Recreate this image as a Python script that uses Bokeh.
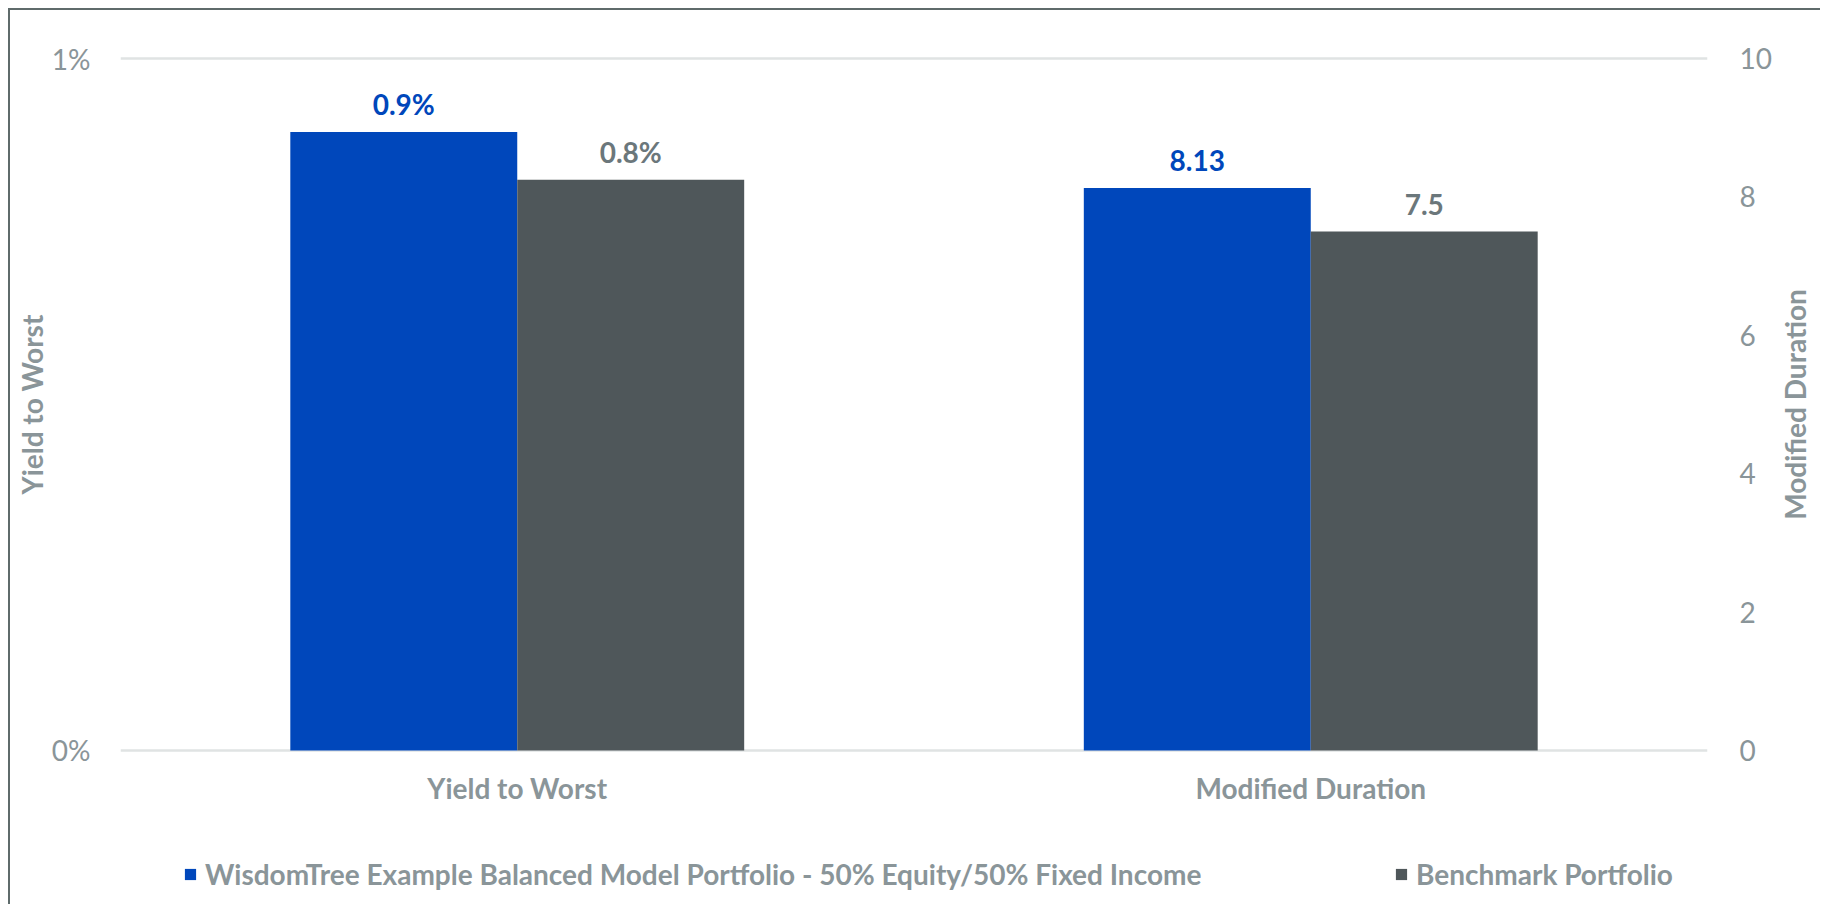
from bokeh.plotting import figure
from bokeh.layouts import column, row
from bokeh.models import (ColumnDataSource, FactorRange, Range1d, LinearAxis, FixedTicker,
                          CustomJSTickFormatter, LabelSet, Legend, LegendItem)
from bokeh.transform import dodge
from bokeh.core.properties import value
from bokeh.embed import file_html
from bokeh.resources import INLINE

# ---- data ----
categories = ["Yield to Worst", "Modified Duration"]
series_names = ["WisdomTree Example Balanced Model Portfolio - 50% Equity/50% Fixed Income",
                "Benchmark Portfolio"]
wisdomtree = [0.894, 8.13]   # yield to worst (%), modified duration (years)
benchmark = [0.825, 7.5]
left_ticks = [0, 1]
right_ticks = [0, 2, 4, 6, 8, 10]
left_title = "Yield to Worst"
right_title = "Modified Duration"

series_values = [wisdomtree, benchmark]
bar_colors = ["#0047BB", "#4F575A"]
label_colors = ["#0047BB", "#6B777B"]
offsets = [-0.143, 0.143]
FONT = "Lato"
GRAY = "#8A9599"

W_MAIN, W_STRIP = 1764, 46
MB_L, MB_R, MB_T, MB_B = 110, 67, 46, 78
PAD = 0.003  # small padding so the 0% / 1% grid lines are not clipped at the frame edge

p = figure(x_range=FactorRange(*categories, range_padding=0),
           y_range=Range1d(-PAD, 1 + PAD), width=W_MAIN, height=820,
           output_backend="svg", toolbar_location=None,
           min_border_left=MB_L, min_border_right=MB_R,
           min_border_top=MB_T, min_border_bottom=MB_B)
p.extra_y_ranges = {"dur": Range1d(-PAD * 10, 10 + PAD * 10)}
p.outline_line_color = None
p.background_fill_color = "white"
p.border_fill_color = "white"

sources = {}
for i, (name, vals) in enumerate(zip(series_names, series_values)):
    for j, cat in enumerate(categories):
        txt = f"{vals[j]:.1f}%" if j == 0 else f"{vals[j]:g}"
        src = ColumnDataSource(dict(cat=[cat], val=[vals[j]], txt=[txt]))
        sources[(i, j)] = src
        rng = "default" if j == 0 else "dur"
        xx = dodge("cat", offsets[i], range=p.x_range)
        p.vbar(x=xx, top="val", bottom=0, width=0.286, source=src, y_range_name=rng,
               fill_color=bar_colors[i], line_color=None)
        p.add_layout(LabelSet(x=xx, y="val", text="txt", source=src, y_range_name=rng,
                              text_align="center", text_baseline="alphabetic", y_offset=17,
                              text_font=value(FONT), text_font_style="bold",
                              text_font_size="28px", text_color=label_colors[i]))

# left axis
ax = p.yaxis[0]
ax.ticker = FixedTicker(ticks=left_ticks)
ax.formatter = CustomJSTickFormatter(code="return tick + '%';")
ax.axis_label = left_title
ax.axis_label_standoff = 0
ax.major_label_standoff = 24

right = LinearAxis(y_range_name="dur", ticker=FixedTicker(ticks=right_ticks))
right.major_label_standoff = 26
p.add_layout(right, "right")

for a in [ax, right]:
    a.axis_line_color = None
    a.major_tick_line_color = None
    a.minor_tick_line_color = None
    a.major_label_text_font = FONT
    a.major_label_text_font_size = "28px"
    a.major_label_text_color = GRAY
    a.axis_label_text_font = FONT
    a.axis_label_text_font_size = "28px"
    a.axis_label_text_font_style = "bold"
    a.axis_label_text_color = GRAY

xa = p.xaxis[0]
xa.axis_line_color = None
xa.major_tick_line_color = None
xa.minor_tick_line_color = None
xa.major_label_text_font = FONT
xa.major_label_text_font_size = "28px"
xa.major_label_text_font_style = "bold"
xa.major_label_text_color = GRAY
xa.major_label_standoff = 12

p.xgrid.grid_line_color = None
p.ygrid.ticker = FixedTicker(ticks=left_ticks)
p.ygrid.grid_line_color = "#E0E3E3"
p.ygrid.grid_line_width = 2.5

# legend strip below the chart (legend glyph proxies share the bar sources, zero width)
lg = figure(width=W_MAIN, height=74, x_range=p.x_range, y_range=Range1d(-2, -1),
            output_backend="svg", toolbar_location=None,
            min_border_left=MB_L, min_border_right=MB_R, min_border_top=0, min_border_bottom=0)
lg.axis.visible = False
lg.grid.visible = False
lg.outline_line_color = None
proxies = [lg.vbar(x=dodge("cat", offsets[i], range=lg.x_range), top="val", width=0,
                   source=sources[(i, 0)], fill_color=bar_colors[i], line_color=None)
           for i in range(len(series_names))]
items = [LegendItem(label=name, renderers=[proxies[i]]) for i, name in enumerate(series_names)]
leg = Legend(items=items, location=(63, 13), orientation="horizontal",
             glyph_width=14, glyph_height=14, label_standoff=8,
             label_width=1189, spacing=0,
             padding=0, margin=0, border_line_color=None,
             background_fill_alpha=0,
             label_text_font=FONT, label_text_font_size="28px",
             label_text_font_style="bold", label_text_color=GRAY)
lg.add_layout(leg, "center")

# right-hand title strip (axis title reading bottom-to-top, like the left one)
st = figure(width=W_STRIP, height=894, x_range=Range1d(0, 1), y_range=Range1d(0, 10),
            output_backend="svg", toolbar_location=None, y_axis_location="left",
            min_border_left=0, min_border_right=0,
            min_border_top=MB_T, min_border_bottom=894 - 820 + MB_B)
st.xaxis.visible = False
st.grid.visible = False
st.outline_line_color = None
sa = st.yaxis[0]
sa.ticker = FixedTicker(ticks=[])
sa.axis_line_color = None
sa.major_tick_line_color = None
sa.minor_tick_line_color = None
sa.major_tick_out = 0
sa.major_label_standoff = 0
sa.axis_label = right_title
sa.axis_label_standoff = 0
sa.axis_label_text_font = FONT
sa.axis_label_text_font_size = "28px"
sa.axis_label_text_font_style = "bold"
sa.axis_label_text_color = GRAY

page = row(column(p, lg, spacing=0), st, spacing=0,
           styles={"margin-left": "8px", "margin-top": "8px",
                   "border-left": "2px solid #5F6B6B", "border-top": "2px solid #5F6B6B"})

open("out.html", "w").write(file_html(page, INLINE))
